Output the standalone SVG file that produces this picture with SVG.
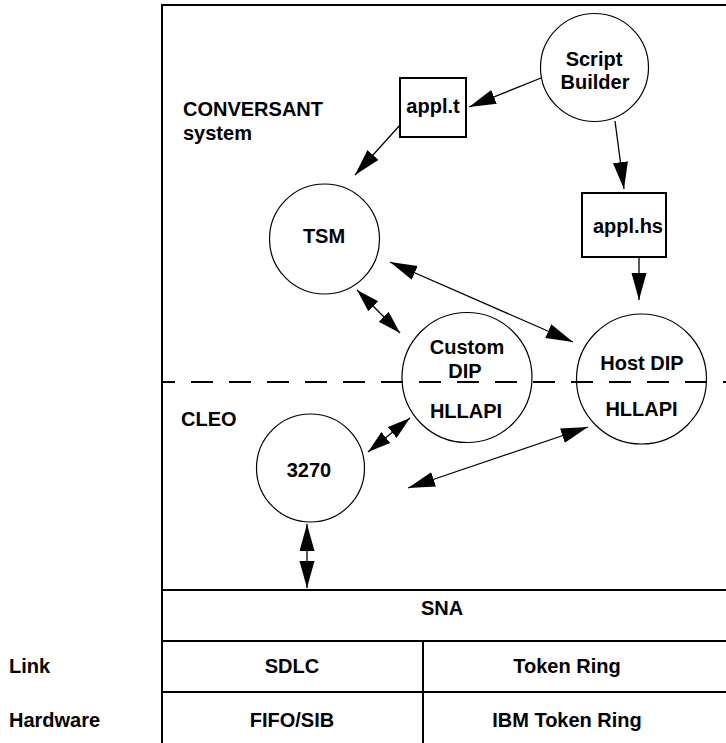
<svg xmlns="http://www.w3.org/2000/svg" width="726" height="743" viewBox="0 0 726 743">
<defs>
<style>
.t{font-family:"Liberation Sans",Arial,Helvetica,sans-serif;font-weight:bold;font-size:20px;fill:#000}
.m{text-anchor:middle}
.c{fill:none;stroke:#000;stroke-width:1.2}
.b{fill:none;stroke:#000;stroke-width:2}
.f{fill:none;stroke:#000;stroke-width:2}
.k line{stroke:#000;stroke-width:1.3;fill:none}
.one{marker-end:url(#ah)}
.two{marker-start:url(#ah);marker-end:url(#ah)}
.twos{marker-start:url(#as);marker-end:url(#as)}
</style>
<marker id="ah" markerUnits="userSpaceOnUse" markerWidth="28" markerHeight="16" refX="27" refY="7.5" orient="auto-start-reverse" viewBox="0 0 28 16">
<path d="M0,0 L27,7.5 L0,15 z" fill="#000"/>
</marker>
<marker id="as" markerUnits="userSpaceOnUse" markerWidth="24" markerHeight="15" refX="23" refY="7" orient="auto-start-reverse" viewBox="0 0 24 15">
<path d="M0,0 L23,7 L0,14 z" fill="#000"/>
</marker>
</defs>
<rect width="726" height="743" fill="#fff"/>

<g id="frame">
<line class="f" x1="162" y1="5" x2="162" y2="743"/>
<line class="f" x1="161" y1="5" x2="726" y2="5"/>
<line class="f" x1="162" y1="382" x2="726" y2="382" stroke-dasharray="22 16" stroke-dashoffset="9"/>
<line class="f" x1="162" y1="590" x2="726" y2="590"/>
<line class="f" x1="162" y1="641" x2="726" y2="641"/>
<line class="f" x1="162" y1="692" x2="726" y2="692"/>
<line class="f" x1="423" y1="641" x2="423" y2="743"/>
</g>

<g id="labels">
<text class="t" x="183" y="116">CONVERSANT</text>
<text class="t" x="183" y="140">system</text>
<text class="t" x="181" y="426">CLEO</text>
<text class="t" x="9" y="673">Link</text>
<text class="t" x="9" y="727">Hardware</text>
</g>

<g id="sna"><text class="t m" x="442" y="615">SNA</text></g>
<g id="sdlc"><text class="t m" x="292" y="673">SDLC</text></g>
<g id="tokenring"><text class="t m" x="567" y="673">Token Ring</text></g>
<g id="fifosib"><text class="t m" x="292" y="727">FIFO/SIB</text></g>
<g id="ibmtokenring"><text class="t m" x="567" y="727">IBM Token Ring</text></g>

<g id="scriptbuilder">
<circle class="c" cx="594.5" cy="67.5" r="54"/>
<text class="t m" x="594" y="66">Script</text>
<text class="t m" x="595" y="89">Builder</text>
</g>

<g id="applt">
<rect class="b" x="400" y="78" width="66" height="59"/>
<text class="t m" x="433" y="113">appl.t</text>
</g>

<g id="tsm">
<circle class="c" cx="324.5" cy="239" r="55"/>
<text class="t m" x="324" y="243">TSM</text>
</g>

<g id="applhs">
<rect class="b" x="582" y="193" width="84" height="64"/>
<text class="t m" x="628" y="233">appl.hs</text>
</g>

<g id="customdip">
<circle class="c" cx="467" cy="377.5" r="65"/>
<text class="t m" x="467" y="354">Custom</text>
<text class="t m" x="465" y="378">DIP</text>
<text class="t m" x="466" y="418">HLLAPI</text>
</g>

<g id="hostdip">
<circle class="c" cx="641.5" cy="379" r="65"/>
<text class="t m" x="642" y="370">Host DIP</text>
<text class="t m" x="641.5" y="416">HLLAPI</text>
</g>

<g id="n3270">
<circle class="c" cx="310.5" cy="468" r="54"/>
<text class="t m" x="309" y="477">3270</text>
</g>

<g id="connectors" class="k">
<line class="one" x1="541" y1="78" x2="469" y2="107"/>
<line class="one" x1="400" y1="125" x2="355" y2="175"/>
<line class="one" x1="615" y1="121" x2="624" y2="189"/>
<line class="one" x1="639" y1="257" x2="639" y2="300"/>
<line class="twos" x1="357" y1="290" x2="400" y2="333"/>
<line class="two" x1="390" y1="262" x2="573" y2="342"/>
<line class="twos" x1="368" y1="452" x2="410" y2="418"/>
<line class="two" x1="588" y1="427" x2="408" y2="488"/>
<line class="two" x1="307" y1="524" x2="307" y2="588"/>
</g>
</svg>
